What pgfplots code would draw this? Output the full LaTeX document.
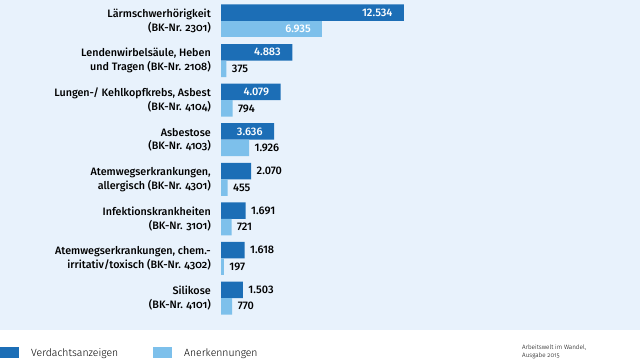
\documentclass[border=0pt]{standalone}
\usepackage{pgfplots}
\pgfplotsset{compat=1.18}
\usepackage{pgfplotstable}
\usepackage{fontspec}
\setmainfont{Fira Sans}
\newfontfamily\labfont{Fira Sans Medium}[Numbers=OldStyle]
\newfontfamily\valfont{Fira Sans Medium}
\newfontfamily\legfont{Fira Sans Light}[Numbers=OldStyle]
\definecolor{dk}{HTML}{1C6EB6}
\definecolor{lt}{HTML}{7DC0EB}
\definecolor{bg}{HTML}{E8F2FC}

\pgfplotstableread{
y x lab
7 12534 12.534
6 4883 4.883
5 4079 4.079
4 3636 3.636
}\darkin
\pgfplotstableread{
y x lab
3 2070 2.070
2 1691 1.691
1 1618 1.618
0 1503 1.503
}\darkout
\pgfplotstableread{
y x lab
7 6935 6.935
}\lightin
\pgfplotstableread{
y x lab
6 375 375
5 794 794
4 1926 1.926
3 455 455
2 721 721
1 197 197
0 770 770
}\lightout

\begin{document}
\begin{tikzpicture}
\useasboundingbox (0,0) rectangle (640bp,360bp);
\fill[white] (0,0) rectangle (640bp,30bp);
\fill[bg] (0,30bp) rectangle (640bp,360bp);
\begin{axis}[
  at={(221bp,42.2bp)}, anchor=south west, scale only axis,
  width=204.4bp, height=316.6bp,
  xmin=0, xmax=14000, ymin=-0.5, ymax=7.5,
  xbar, bar width=16.5bp,
  hide x axis, axis y line*=left, y axis line style={draw=none},
  ytick={0,...,7}, major tick length=0pt,
  yticklabels={
    {Silikose\\(BK-Nr. 4101)},
    {Atemwegserkrankungen, chem.-\\irritativ/toxisch (BK-Nr. 4302)},
    {Infektionskrankheiten\\(BK-Nr. 3101)},
    {Atemwegserkrankungen,\\allergisch (BK-Nr. 4301)},
    {Asbestose\\(BK-Nr. 4103)},
    {Lungen-/ Kehlkopfkrebs, Asbest\\(BK-Nr. 4104)},
    {Lendenwirbelsäule, Heben\\und Tragen (BK-Nr. 2108)},
    {Lärmschwerhörigkeit\\(BK-Nr. 2301)}},
  yticklabel style={align=right, font=\labfont\fontsize{10.8}{13.8}\selectfont, inner sep=0pt, xshift=-10bp},
  clip=false,
  point meta=explicit symbolic,
  nodes near coords,
  every node near coord/.append style={font=\valfont\fontsize{11}{12}\selectfont},
]
\addplot[fill=dk, draw=none, bar shift=8.25bp,
  every node near coord/.append style={anchor=east, text=white, xshift=-8bp}]
  table[x=x,y=y,meta=lab]{\darkin};
\addplot[fill=dk, draw=none, bar shift=8.25bp,
  every node near coord/.append style={anchor=west, text=black, xshift=2bp}]
  table[x=x,y=y,meta=lab]{\darkout};
\addplot[fill=lt, draw=none, bar shift=-8.25bp,
  every node near coord/.append style={anchor=east, text=white, xshift=-8bp}]
  table[x=x,y=y,meta=lab]{\lightin};
\addplot[fill=lt, draw=none, bar shift=-8.25bp,
  every node near coord/.append style={anchor=west, text=black, xshift=2bp}]
  table[x=x,y=y,meta=lab]{\lightout};
\end{axis}
\fill[dk] (0,2bp) rectangle (19bp,13bp);
\node[anchor=base west, inner sep=0pt, font=\legfont\fontsize{10.5}{12}\selectfont] at (31bp,4bp) {Verdachtsanzeigen};
\fill[lt] (153bp,2bp) rectangle (172bp,13bp);
\node[anchor=base west, inner sep=0pt, font=\legfont\fontsize{10.5}{12}\selectfont] at (184bp,4bp) {Anerkennungen};
\node[anchor=north west, inner sep=0pt, align=left, font=\legfont\fontsize{6.3}{7.5}\selectfont] at (522bp,15bp) {Arbeitswelt im Wandel,\\Ausgabe 2015};
\end{tikzpicture}
\end{document}
